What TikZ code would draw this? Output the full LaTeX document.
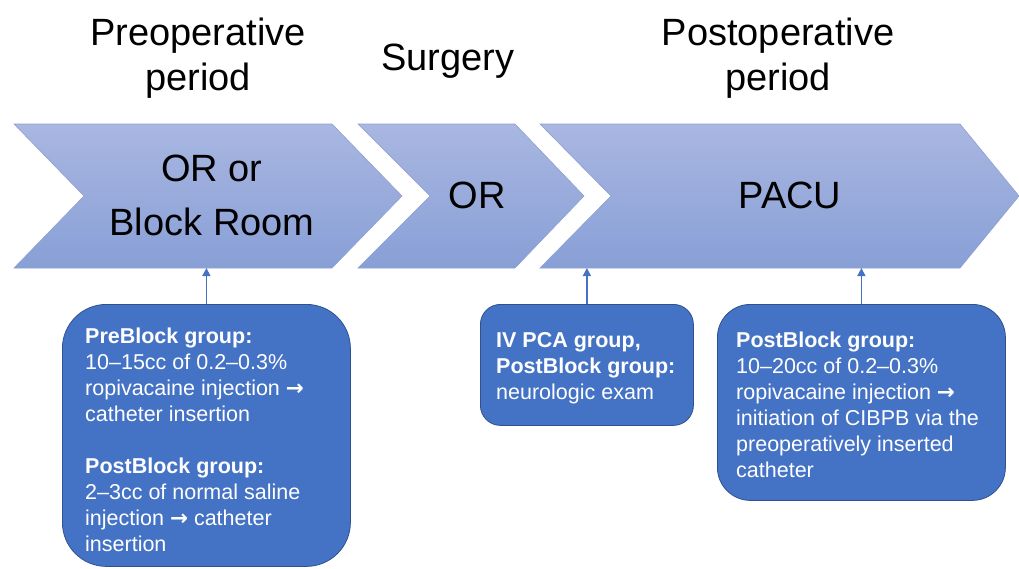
\documentclass[tikz,border=0pt]{standalone}
\usepackage{fontspec}
\setmainfont{Liberation Sans}
\newfontfamily\arrowfont{DejaVu Sans}
\usetikzlibrary{arrows.meta}
\definecolor{boxblue}{HTML}{4472C4}
\definecolor{boxedge}{HTML}{2F528F}
\definecolor{chevtop}{HTML}{A9B7E1}
\definecolor{chevbot}{HTML}{889FD6}
\definecolor{chevedge}{HTML}{8EA0D2}
\newcommand{\myarrow}{{\arrowfont\bfseries\char"2192}}
\tikzset{
  chev/.style={draw=chevedge, line width=0.6pt, top color=chevtop, bottom color=chevbot},
  headtext/.style={font=\fontsize{38}{45}\selectfont, align=center, inner sep=0pt, text=black},
  chevtext/.style={font=\fontsize{38}{54}\selectfont, align=center, inner sep=0pt, text=black},
  infobox/.style={draw=boxedge, line width=0.8pt, fill=boxblue, anchor=north west, inner sep=0pt},
  boxtext/.style={font=\fontsize{21.5}{26}\selectfont, align=left, inner sep=0pt, text=white, anchor=north west},
  conn/.style={draw=boxblue, line width=1.5pt, -{Triangle[length=8pt,width=8pt]}}
}
\begin{document}
\begin{tikzpicture}[x=1pt,y=-1pt]
\useasboundingbox (0,0) rectangle (1019,568);
% headers
\node[headtext] (h1) at (198,58) {Preoperative\\period};
\node[headtext] (h2) at (448,61) {Surgery};
\node[headtext] (h3) at (778,58) {Postoperative\\period};
% chevrons
\path[chev] (14,124) -- (332,124) -- (402,196) -- (332,268) -- (14,268) -- (84,196) -- cycle;
\path[chev] (358,124) -- (515,124) -- (584,196) -- (515,268) -- (358,268) -- (430,196) -- cycle;
\path[chev] (540,124) -- (960,124) -- (1019,196) -- (960,268) -- (540,268) -- (611,196) -- cycle;
\coordinate (base) at (0,268);
\node[chevtext] (t1) at (212,195) {OR or\\Block Room};
\node[chevtext] (t2) at (477,195) {OR};
\node[chevtext] (t3) at (790,195) {PACU};
% boxes
\node[infobox, minimum width=288pt, minimum height=262pt, rounded corners=44pt] (b1) at (62,304) {};
\node[infobox, minimum width=213pt, minimum height=121pt, rounded corners=20pt] (b2) at (480,304) {};
\node[infobox, minimum width=288pt, minimum height=196pt, rounded corners=33pt] (b3) at (717,304) {};
\node[boxtext] (b1t) at (85,328) {\textbf{PreBlock group:}\\10--15cc of 0.2--0.3\%\\ropivacaine injection \myarrow\\catheter insertion\\[26pt]\textbf{PostBlock group:}\\2--3cc of normal saline\\injection \myarrow{} catheter\\insertion};
\node[boxtext] (b2t) at (496,332) {\textbf{IV PCA group,}\\\textbf{PostBlock group:}\\neurologic exam};
\node[boxtext] (b3t) at (736,332) {\textbf{PostBlock group:}\\10--20cc of 0.2--0.3\%\\ropivacaine injection \myarrow\\initiation of CIBPB via the\\preoperatively inserted\\catheter};
% connectors
\draw[conn] (b1.north) -- (b1.north |- base);
\draw[conn] (b2.north) -- (b2.north |- base);
\draw[conn] (b3.north) -- (b3.north |- base);
\end{tikzpicture}
\end{document}
